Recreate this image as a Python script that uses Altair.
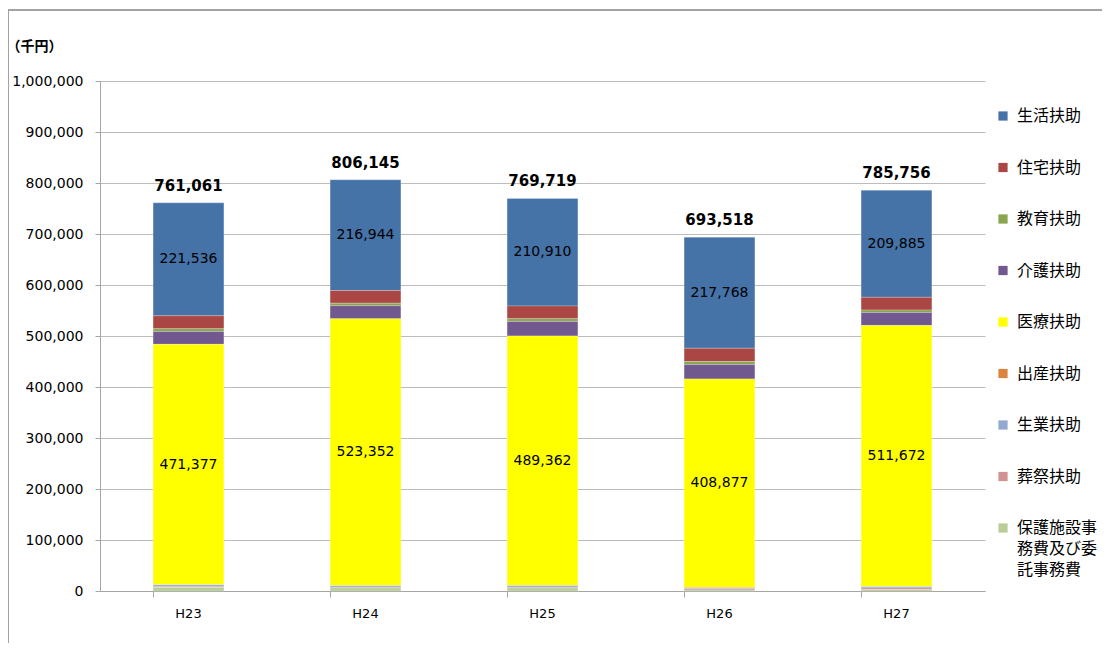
import altair as alt
import pandas as pd

years = ["H23", "H24", "H25", "H26", "H27"]
series = ["生活扶助", "住宅扶助", "教育扶助", "介護扶助", "医療扶助",
          "出産扶助", "生業扶助", "葬祭扶助", "保護施設事務費及び委託事務費"]
colors = ["#4572A7", "#AA4643", "#89A54E", "#71588F", "#FFFF00",
          "#DB843D", "#93A9CF", "#D19392", "#B9CD96"]

seikatsu = [221536, 216944, 210910, 217768, 209885]
jutaku = [25348, 24849, 24847, 26000, 25000]
kyoiku = [5500, 5000, 5300, 6000, 5000]
kaigo = [25000, 25500, 28500, 28073, 25199]
iryo = [471377, 523352, 489362, 408877, 511672]
shussan = [300, 300, 300, 1000, 500]
seigyo = [3500, 3000, 3200, 1500, 2500]
sosai = [1500, 1200, 1300, 2500, 3000]
hogo = [7000, 6000, 6000, 2000, 3000]
totals = [761061, 806145, 769719, 693518, 785756]
labeled = ["生活扶助", "医療扶助"]

values = [seikatsu, jutaku, kyoiku, kaigo, iryo, shussan, seigyo, sosai, hogo]
rows = []
for si, (name, vals) in enumerate(zip(series, values)):
    for yi, yr in enumerate(years):
        rows.append({"year": yr, "series": name, "value": vals[yi],
                     "stackorder": len(series) - si,
                     "show": name in labeled})
df = pd.DataFrame(rows)
tot_df = pd.DataFrame({"year": years, "total": totals})

FONT = "DejaVu Sans"
JFONT = "Noto Sans CJK JP"

xenc = alt.X("year:N", sort=years,
             scale=alt.Scale(paddingInner=0.6, paddingOuter=0.3),
             axis=alt.Axis(title=None, labelAngle=0, labelFont=FONT, labelFontSize=13,
                           labelColor="#000000", labelPadding=10, bandPosition=0,
                           tickColor="#a6a6a6", tickSize=6, domainColor="#a6a6a6"))

yscale = alt.Scale(domain=[0, 1000000], nice=False)

base = alt.Chart(df).transform_stack(
    stack="value", groupby=["year"], sort=[alt.SortField("stackorder", order="ascending")],
    as_=["y0", "y1"]
)

bars = base.mark_bar(stroke="#ffffff", strokeWidth=0.4, strokeOpacity=0.6).encode(
    x=xenc,
    y=alt.Y("y0:Q", scale=yscale,
            axis=alt.Axis(title="（千円）", titleAngle=0, titleFont=JFONT, titleFontSize=14,
                          titleFontWeight="bold", titleX=-94, titleY=-35, titleAlign="left",
                          titleBaseline="middle", titleColor="#000000",
                          values=list(range(0, 1000001, 100000)), format=",d",
                          labelFont=FONT, labelFontSize=14, labelColor="#000000",
                          labelPadding=12, tickColor="#a6a6a6", tickSize=5,
                          domainColor="#a6a6a6", gridColor="#bcbcbc", gridWidth=1)),
    y2="y1:Q",
    color=alt.Color("series:N", sort=series,
                    scale=alt.Scale(domain=series, range=colors),
                    legend=alt.Legend(title=None, orient="none", legendX=895, legendY=27,
                                      symbolType="square", symbolSize=85,
                                      symbolStrokeWidth=0, labelFont=JFONT,
                                      labelFontSize=16, labelColor="#000000",
                                      rowPadding=35.5, labelOffset=6, labelLimit=200,
                                      labelExpr="datum.label == '保護施設事務費及び委託事務費' ? ['保護施設事','務費及び委','託事務費'] : datum.label")),
)

seg_labels = base.transform_filter(alt.datum.show).transform_calculate(
    mid="(datum.y0 + datum.y1) / 2"
).mark_text(font=FONT, fontSize=14, color="#000000").encode(
    x=alt.X("year:N", sort=years),
    y=alt.Y("mid:Q", scale=yscale),
    text=alt.Text("value:Q", format=",d"),
)

tot_labels = alt.Chart(tot_df).mark_text(
    font=FONT, fontSize=15, fontWeight="bold", color="#000000",
    baseline="bottom", dy=-9
).encode(
    x=alt.X("year:N", sort=years),
    y=alt.Y("total:Q", scale=yscale),
    text=alt.Text("total:Q", format=",d"),
)

frame_v = alt.Chart(tot_df).mark_rule(color="#a0a0a0", strokeWidth=1).encode(
    x=alt.value(-92), y=alt.value(-71), y2=alt.value(580))
frame_h = alt.Chart(tot_df).mark_rule(color="#a0a0a0", strokeWidth=1).encode(
    x=alt.value(-92), x2=alt.value(1020), y=alt.value(-71))

chart = alt.layer(bars, seg_labels, tot_labels, frame_v, frame_h).properties(
    width=885, height=510,
    autosize=alt.AutoSizeParams(type="none"),
    padding={"left": 92, "top": 73, "right": 117, "bottom": 52},
    background="#ffffff",
).configure(
    style={"guide-label": {"lineHeight": 21}}
).configure_view(stroke=None).configure_axis(grid=False).configure_axisY(grid=True)

chart.save("out.html", embed_options={"renderer": "svg", "actions": False})
